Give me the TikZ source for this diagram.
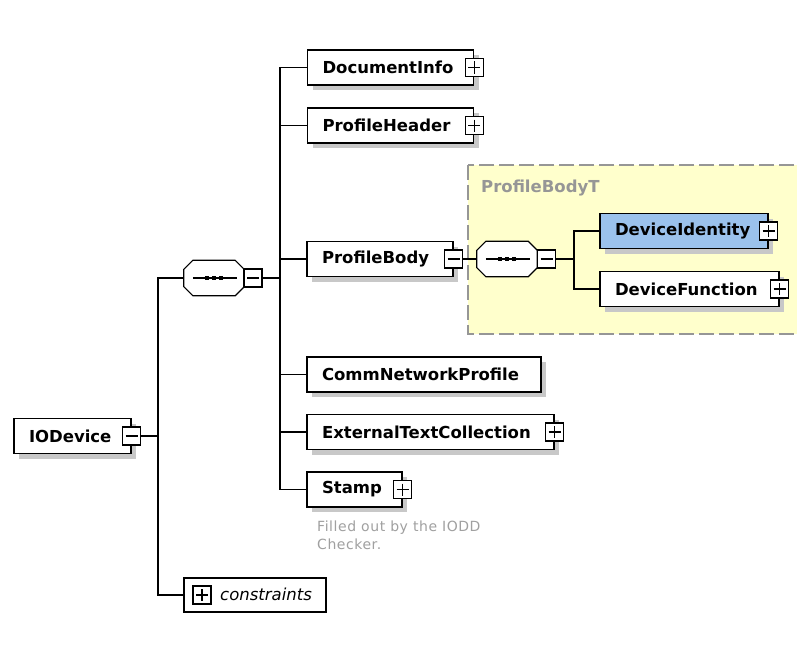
\documentclass[tikz,border=0pt]{standalone}
\usepackage{fontspec}
\setmainfont{DejaVu Sans}
\newfontfamily\notefont[LetterSpace=4]{DejaVu Sans}
\usetikzlibrary{calc}

\definecolor{shadowgray}{RGB}{200,200,200}
\definecolor{groupfill}{RGB}{255,255,204}
\definecolor{groupline}{RGB}{150,150,150}
\definecolor{grouptext}{RGB}{150,150,150}
\definecolor{notetext}{RGB}{160,160,160}
\definecolor{selfill}{RGB}{155,194,236}

\tikzset{
  shadowed/.style={preaction={fill=shadowgray,transform canvas={xshift=5pt,yshift=-5pt}}},
  elem/.style={draw=black, line width=1.2pt, fill=white, shadowed,
    minimum height=35pt, inner xsep=15pt, inner ysep=0pt, align=left,
    font=\fontsize{16.5}{19}\selectfont\bfseries},
  expander/.style={draw=black, line width=1.1pt, fill=white, minimum size=18pt, inner sep=0pt},
  plussign/.style={expander, path picture={
      \draw[line width=1.1pt] ([xshift=3pt]path picture bounding box.west) -- ([xshift=-3pt]path picture bounding box.east);
      \draw[line width=1.1pt] ([yshift=-3pt]path picture bounding box.north) -- ([yshift=3pt]path picture bounding box.south);}},
  minussign/.style={expander, path picture={
      \draw[line width=1.1pt] ([xshift=3pt]path picture bounding box.west) -- ([xshift=-3pt]path picture bounding box.east);}},
  seqbox/.style={minimum width=60pt, minimum height=35pt, inner sep=0pt},
  seqoutline/.style={draw=black, line width=1.2pt, fill=white},
  conn/.style={line width=1.2pt, draw=black},
  group/.style={draw=groupline, line width=1.5pt, fill=groupfill, dash pattern=on 15pt off 5pt},
  note/.style={font=\fontsize{14}{18}\notefont, text=notetext, align=left, inner sep=0pt, anchor=north west}
}

% octagonal sequence compositor drawn around a named node
\newcommand\octpath[2]{%
  ($(#1.north west)+(#2,0)$) -- ($(#1.north east)+(-#2,0)$) -- ($(#1.north east)+(0,#2)$) --
  ($(#1.south east)+(0,-#2)$) -- ($(#1.south east)+(-#2,0)$) -- ($(#1.south west)+(#2,0)$) --
  ($(#1.south west)+(0,-#2)$) -- ($(#1.north west)+(0,#2)$) -- cycle}
\newcommand\seqdraw[1]{%
  \begin{scope}[shift={(5,5)}]
    \fill[shadowgray] \octpath{#1}{9};
  \end{scope}
  \path[seqoutline] \octpath{#1}{9};
  \draw[line width=1.1pt] ($(#1.west)+(9,0)$) -- ($(#1.east)+(-7,0)$);
  \foreach \dx in {-7,0,7}
    \fill ($(#1.center)+(\dx-2.3,-2.3)$) rectangle ++(4.6,4.6);
}

\begin{document}
\begin{tikzpicture}[x=1pt,y=-1pt]
  \useasboundingbox (0,0) rectangle (797,661);
  \fill[white] (0,0) rectangle (797,661);
  \clip (0,0) rectangle (797,661);

  % complex type group of ProfileBody
  \path[group] (468,165) rectangle (812,334);
  \node[anchor=west, inner sep=0pt, text=grouptext, font=\fontsize{16.5}{19}\selectfont\bfseries] (grouplabel) at (481,188) {ProfileBodyT};

  % root element
  \node[elem, text width=87pt] (iodevice) at (72.5,436) {IODevice};
  \node[minussign] (iodevicex) at (iodevice.east) {};

  % top level sequence
  \node[seqbox] (seq1) at (214,278) {};
  \seqdraw{seq1}
  \node[minussign] (seq1x) at (253,278) {};

  % children of the sequence
  \node[elem, text width=136pt] (docinfo) at (390.5,67.5) {DocumentInfo};
  \node[plussign] (docinfox) at (docinfo.east) {};
  \node[elem, text width=136pt] (profheader) at (390.5,125.5) {ProfileHeader};
  \node[plussign] (profheaderx) at (profheader.east) {};
  \node[elem, text width=116pt] (profbody) at (380,259) {ProfileBody};
  \node[minussign] (profbodyx) at (profbody.east) {};
  \node[elem, text width=204pt] (commnet) at (424,374.5) {CommNetworkProfile};
  \node[elem, text width=217pt] (exttext) at (430.5,432) {ExternalTextCollection};
  \node[plussign] (exttextx) at (exttext.east) {};
  \node[elem, text width=65pt] (stamp) at (354.5,489.5) {Stamp};
  \node[plussign] (stampx) at (stamp.east) {};
  \node[note] (stampnote) at (317,521) {Filled out by the IODD\\Checker.};

  % constraints
  \node[draw=black, line width=1.2pt, fill=white, minimum width=142pt, minimum height=34pt] (cons) at (255,595) {};
  \node[plussign] (consx) at (202,595) {};
  \node[anchor=west, inner sep=0pt, font=\fontsize{16.5}{19}\selectfont\itshape] (conslabel) at (220,594) {constraints};

  % sequence inside ProfileBodyT
  \node[seqbox] (seq2) at (507,259) {};
  \seqdraw{seq2}
  \node[minussign] (seq2x) at (546.5,259) {};
  \node[elem, fill=selfill, text width=138pt] (devident) at (684,231) {DeviceIdentity};
  \node[plussign] (devidentx) at (devident.east) {};
  \node[elem, text width=149pt] (devfunc) at (689.5,289) {DeviceFunction};
  \node[plussign] (devfuncx) at (devfunc.east) {};

  % connectors
  \coordinate (bus1) at (158,436);
  \coordinate (bus2) at (280,278);
  \coordinate (bus3) at (574,259);
  \draw[conn] (iodevicex.east) -- (bus1);
  \draw[conn] (seq1.west) -| (bus1) |- (cons.west);
  \draw[conn] (seq1x.east) -- (bus2);
  \foreach \child in {docinfo,profheader,profbody,commnet,exttext,stamp}
    \draw[conn] (bus2) |- (\child.west);
  \draw[conn] (profbodyx.east) -- (seq2.west);
  \draw[conn] (seq2x.east) -- (bus3);
  \foreach \child in {devident,devfunc}
    \draw[conn] (bus3) |- (\child.west);
\end{tikzpicture}
\end{document}
